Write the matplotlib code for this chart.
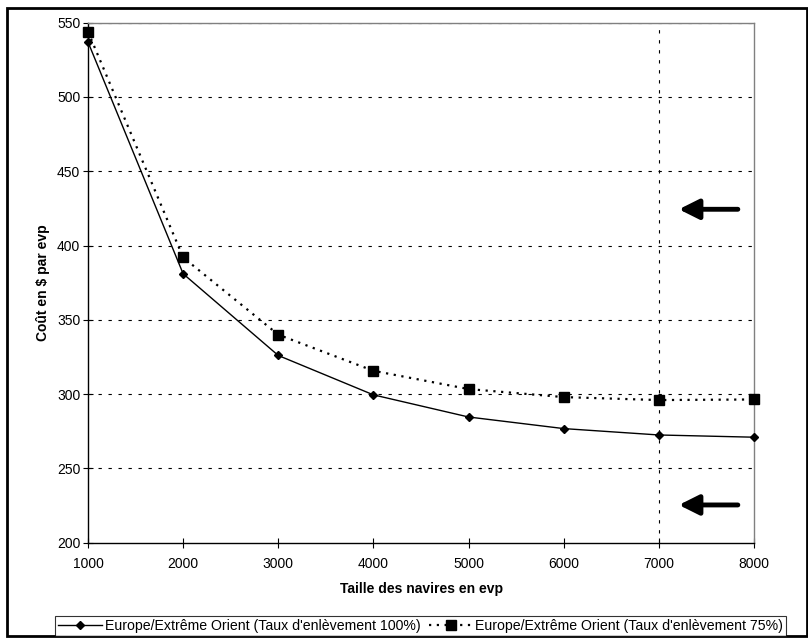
import numpy as np
import matplotlib
matplotlib.use("Agg")
import matplotlib.pyplot as plt

plt.rcParams['font.family'] = ['Liberation Sans', 'DejaVu Sans']

# données
taille = [1000, 2000, 3000, 4000, 5000, 6000, 7000, 8000]
cout_100 = [537, 381, 326, 299.5, 284.6, 276.8, 272.5, 271]
cout_75 = [544, 392, 340, 315.7, 303.4, 298, 296, 296.4]
label_100 = "Europe/Extrême Orient (Taux d'enlèvement 100%)"
label_75 = "Europe/Extrême Orient (Taux d'enlèvement 75%)"
y_ticks = [200, 250, 300, 350, 400, 450, 500, 550]
fleches_y = [424.4, 225.4]

fig = plt.figure(figsize=(8.08, 6.44), dpi=100)
ax = fig.add_axes([0.1089, 0.1573, 0.8243, 0.8075])

# cadre extérieur
fig.patches.append(plt.Rectangle((0.009, 0.012), 0.99, 0.976, transform=fig.transFigure,
                                 fill=False, edgecolor='black', linewidth=2))

# grille
for y in y_ticks[1:]:
    ax.axhline(y, color='black', linestyle=(0, (3, 6)), linewidth=0.8, zorder=1)
ax.axvline(7000, color='black', linestyle=(0, (3, 6)), linewidth=0.8, zorder=1)

ax.plot(taille, cout_100, color='black', linewidth=1, marker='D', markersize=4.5,
        label=label_100, zorder=3, clip_on=False)
ax.plot(taille, cout_75, color='black', linewidth=1.6, linestyle=(0, (1, 2.5)), marker='s',
        markersize=6.5, label=label_75, zorder=3, clip_on=False)

# flèches
for y in fleches_y:
    ax.annotate('', xy=(7210, y), xytext=(7830, y),
                arrowprops=dict(arrowstyle='-|>,head_length=1.2,head_width=0.6',
                                color='black', linewidth=3.5, shrinkA=0, shrinkB=0))

ax.set_xlim(1000, 8000)
ax.set_ylim(200, 550)
ax.set_xticks(taille)
ax.set_yticks(y_ticks)
ax.tick_params(axis='both', labelsize=10, direction='inout', length=7, width=0.8)
ax.tick_params(axis='x', pad=7)
ax.tick_params(axis='y', pad=2)

for side in ['top', 'right']:
    ax.spines[side].set_color('gray')
    ax.spines[side].set_linewidth(1)
for side in ['left', 'bottom']:
    ax.spines[side].set_linewidth(1)

ax.set_xlabel("Taille des navires en evp", fontsize=10, fontweight='bold', labelpad=8)
ax.set_ylabel("Coût en $ par evp", fontsize=10, fontweight='bold', labelpad=5)

leg = fig.legend(loc='lower left', bbox_to_anchor=(0.068, 0.013), ncol=2, fontsize=10.2,
                 frameon=True, fancybox=False, edgecolor='black', handlelength=3.1,
                 handletextpad=0.2, columnspacing=0.6, borderpad=0.2, borderaxespad=0)
leg.get_frame().set_linewidth(0.8)

fig.savefig("out.png", dpi=100)
